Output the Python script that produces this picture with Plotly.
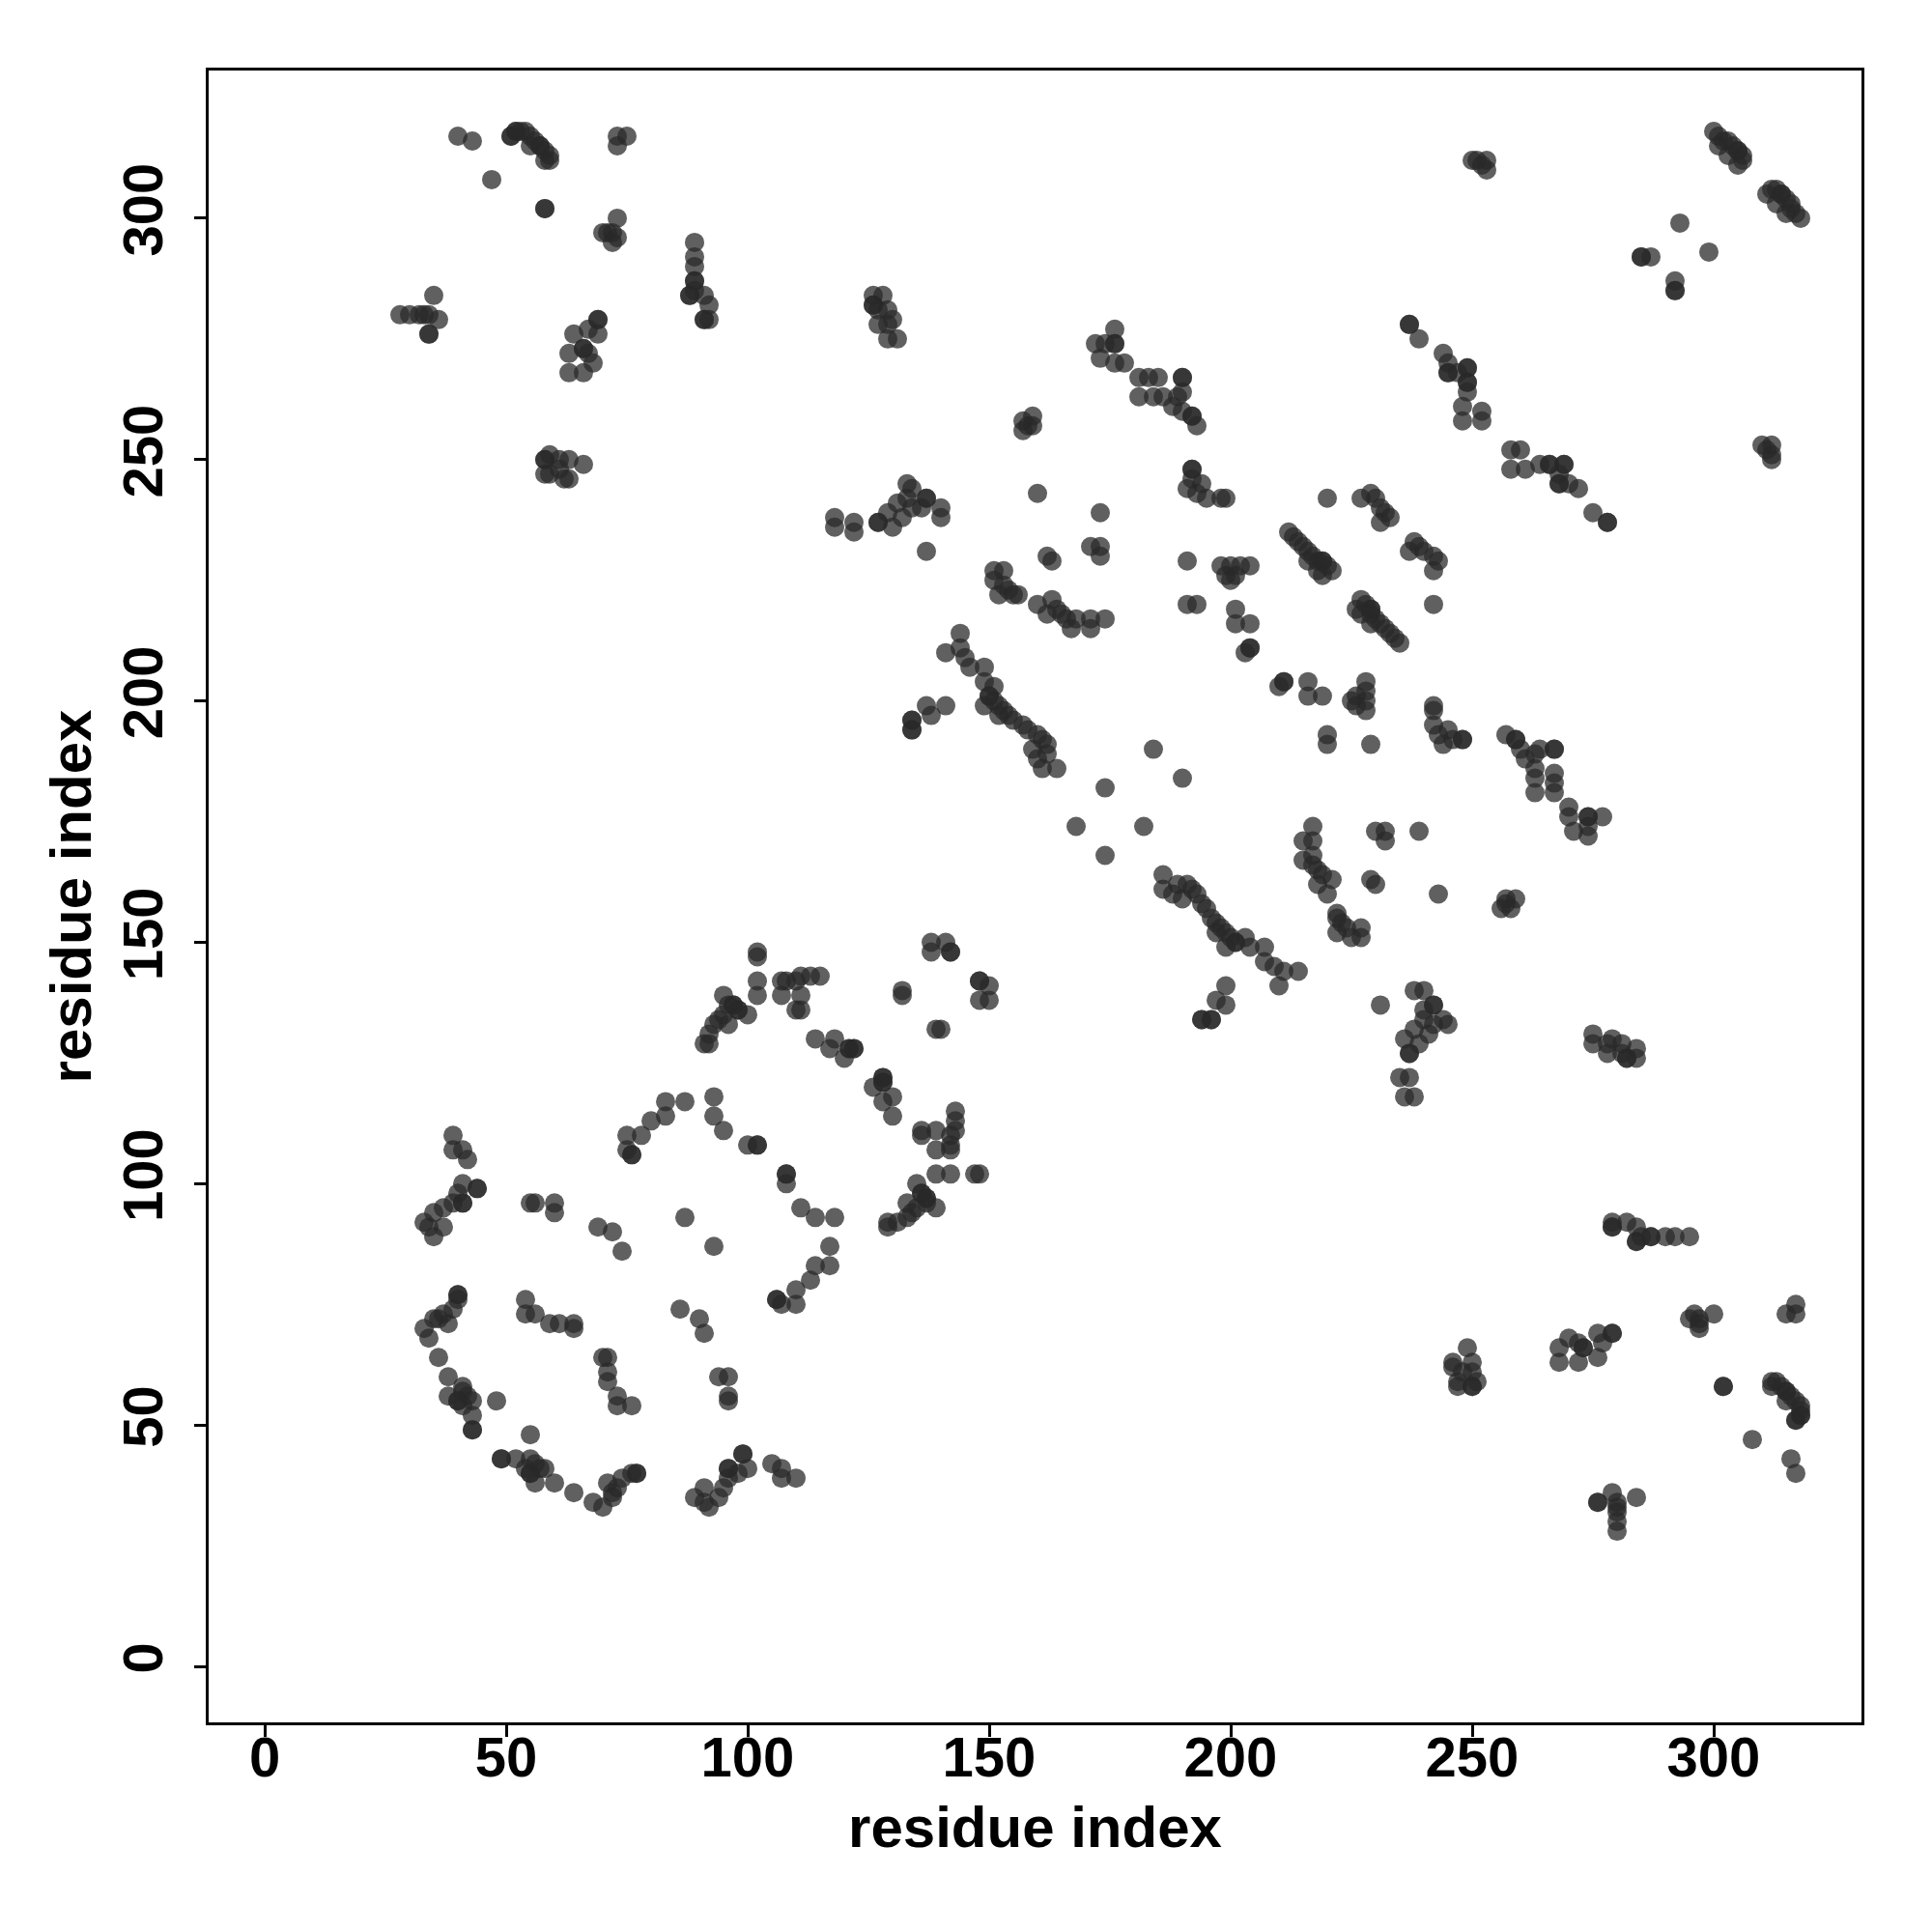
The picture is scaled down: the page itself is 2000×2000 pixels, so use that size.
import plotly.graph_objects as go

# n_obs = how many times a contact is listed (overlaps render darker).
res_i = [
    40, 43,
    51, 52, 53, 54, 55, 56, 57, 58, 59, 58, 59, 55,
    47, 58,
    73, 75, 73,
    73, 70, 71, 72, 73, 72,
    89, 89, 89, 89, 88, 89, 91, 92, 91, 92,
    28, 30, 32, 33, 34, 36, 35, 34,
    69, 64, 67, 69, 63, 66, 67, 63, 66, 68,
    58, 59, 61, 63, 66, 58, 59, 61, 63, 62,
    126, 128, 126, 127, 129, 127, 129, 130, 129, 131,
    176, 172, 174, 176, 173, 176, 178,
    181, 183, 185, 190, 181, 184, 186, 189, 190, 188, 190, 192, 193,
    159, 158, 157, 157, 159,
    160, 173, 171, 173, 173,
    192, 192, 194, 191, 193, 195, 198, 199,
    118, 118, 122, 122,
    133, 134, 137, 140, 140, 131, 129, 127, 130, 132, 134, 136, 133,
    137,
    151, 153, 151, 153, 154, 155, 152, 156,
    162, 163,
    160, 163, 164, 162, 166, 168, 171, 171, 174, 167, 165,
    191, 191, 193,
    198, 200, 202, 204, 199, 201, 200,
    201, 201, 204,
    204, 203,
    212, 213, 214, 215, 216, 217, 218, 219, 220, 221, 216, 218, 219,
    227, 229, 230, 231, 232, 233, 231,
    220,
    244, 245, 245, 247, 249, 249, 249, 248, 252, 248, 252,
    237, 239,
    250, 251, 253, 252, 253,
    300, 301, 302, 303, 304, 305, 306, 306, 305, 301, 303,
    293, 285, 287,
    144, 141, 144, 145, 146, 149, 149, 151, 150, 151, 149, 152, 153, 154, 155, 157,
    158, 160, 161, 162, 159, 162, 160, 161, 164, 152,
    138, 138, 141, 142,
    137, 141, 138, 134, 134,
    184, 174, 168,
    102, 102, 102, 102, 107, 108, 107, 110, 111, 113, 115, 111, 111, 110,
    95, 97, 98, 100, 95, 93, 92, 91, 94, 96, 96, 92,
    83, 87, 83, 80, 78, 75, 76, 75,
    93, 93, 95,
    100, 102,
    114, 118, 121, 122, 120, 117,
    132, 132,
    39, 39, 41, 42,
    41, 44, 40, 39, 37, 35, 33, 35, 37, 41, 34,
    55, 56, 60, 60,
    69, 72, 74,
    87,
    40, 40, 39, 37, 35, 33, 34, 38, 36,
    54, 56, 54,
    59, 61, 64, 64,
    36, 38, 41, 38, 41, 40, 42, 43, 43, 43, 48, 41,
]
res_j = [
    317, 316,
    317, 318, 318, 318, 317, 316, 315, 314, 313, 312, 312, 315,
    308, 302,
    317, 317, 315,
    300, 297, 297, 297, 296, 295,
    295, 292, 290, 287, 284, 285, 284, 282, 279, 279,
    280, 280, 280, 280, 280, 279, 284, 276,
    279, 276, 277, 276, 272, 273, 272, 268, 268, 270,
    250, 251, 250, 250, 249, 247, 247, 248, 246, 246,
    284, 284, 282, 281, 281, 278, 278, 279, 275, 275,
    277, 274, 274, 274, 271, 270, 270,
    267, 267, 267, 267, 263, 263, 263, 263, 264, 261, 260, 259, 257,
    259, 257, 256, 258, 257,
    243, 239, 232, 232, 230,
    248, 246, 245, 244, 243, 242, 242, 242,
    238, 236, 237, 235,
    245, 244, 242, 240, 238, 241, 239, 237, 236, 238, 240, 240, 242,
    231,
    227, 227, 225, 224, 223, 222, 222, 222,
    230, 229,
    220, 221, 219, 218, 217, 217, 217, 215, 217, 215, 218,
    229, 220, 220,
    228, 228, 228, 228, 226, 226, 225,
    219, 216, 216,
    211, 210,
    235, 234, 233, 232, 231, 230, 229, 229, 228, 227, 229, 227, 226,
    242, 243, 242, 240, 239, 238, 237,
    242,
    272, 270, 268, 268, 269, 266, 264, 261, 260, 258, 258,
    278, 275,
    312, 312, 312, 311, 310,
    318, 317, 316, 316, 315, 314, 313, 312, 311, 315, 313,
    299, 292, 292,
    214, 210, 211, 209, 207, 207, 204, 203, 201, 200, 199, 199, 198, 197, 196, 195,
    194, 193, 192, 191, 190, 189, 188, 186, 186, 197,
    150, 148, 150, 148,
    199, 199, 197, 196, 194,
    190, 182, 174,
    148, 147, 142, 139, 142, 142, 139, 142, 143, 143, 143, 139, 136, 136,
    139, 137, 136, 135, 135, 133, 131, 129, 134, 137, 133, 129,
    117, 117, 114, 113, 110, 110, 106, 107,
    118, 114, 111,
    108, 108,
    130, 130, 128, 128, 126, 128,
    140, 139,
    110, 107, 107, 105,
    100, 99, 98, 96, 95, 94, 92, 89, 91, 96, 91,
    96, 96, 96, 94,
    91, 90, 86,
    93,
    77, 76, 74, 73, 72, 70, 68, 71, 72,
    76, 73, 73,
    71, 71, 71, 70,
    64, 60, 58, 56, 57, 55, 56, 55, 52, 49, 55, 54,
]
dark_pairs = [
    (51, 317), (52, 318), (57, 315), (58, 302), (89, 287), (88, 284), (91, 279),
    (34, 276), (69, 279), (66, 273), (58, 250), (126, 282), (176, 274),
    (190, 267), (192, 259), (192, 248), (137, 242), (127, 237), (204, 211),
    (219, 229), (245, 268), (249, 269), (249, 266), (237, 278), (305, 314),
    (285, 292), (150, 201), (142, 148), (134, 196), (134, 194), (97, 137),
    (98, 136), (76, 106), (102, 108), (121, 128), (122, 128), (44, 99),
    (41, 96), (40, 77), (40, 55), (43, 49),
]
n_obs = [2 if (a, b) in dark_pairs else 1 for a, b in zip(res_i, res_j)]

xs, ys = [], []
for a, b, n in zip(res_i, res_j, n_obs):
    for _ in range(n):
        xs += [a, b]
        ys += [b, a]

tick_vals = [0, 50, 100, 150, 200, 250, 300]
tick_text = ["0", "50", "100", "150", "200", "250", "300"]
axis_title = "residue index"

fig = go.Figure(
    go.Scatter(
        x=xs, y=ys, mode="markers",
        marker=dict(size=20, color="rgba(40,40,40,0.74)", line=dict(width=0)),
        hoverinfo="skip",
    )
)

axis_common = dict(
    tickvals=tick_vals, ticktext=tick_text,
    showline=True, mirror=True, linecolor="black", linewidth=2.5,
    ticks="outside", ticklen=12, tickwidth=2.5, tickcolor="black",
    showgrid=False, zeroline=False,
    tickfont=dict(family="Liberation Sans", size=58, color="black", weight="bold"),
)

fig.update_layout(
    width=2000, height=2000,
    margin=dict(l=208, r=81, t=65, b=225),
    paper_bgcolor="white", plot_bgcolor="white",
    showlegend=False,
    xaxis=dict(range=[-11.6, 330.6], ticklabelstandoff=-28, **axis_common,
               title=dict(text=axis_title, standoff=20,
                          font=dict(family="Liberation Sans", size=60, color="black", weight="bold"))),
    yaxis=dict(range=[-11.6, 330.6], tickangle=-90, ticklabelstandoff=10, **axis_common,
               title=dict(text=axis_title, standoff=2,
                          font=dict(family="Liberation Sans", size=60, color="black", weight="bold"))),
)

fig.write_html("out.html")
